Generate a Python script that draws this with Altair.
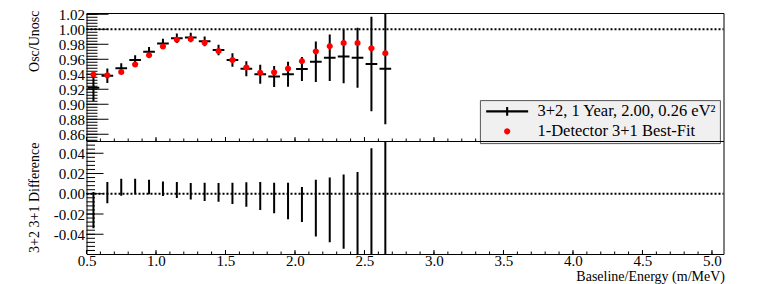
import numpy as np
import pandas as pd
import altair as alt

# ---------------- values ----------------
bin_centers = [0.55, 0.65, 0.75, 0.85, 0.95, 1.05, 1.15, 1.25, 1.35, 1.45, 1.55,
               1.65, 1.75, 1.85, 1.95, 2.05, 2.15, 2.25, 2.35, 2.45, 2.55, 2.65]
ratio_32 = [0.922, 0.938, 0.948, 0.959, 0.970, 0.981, 0.988, 0.989, 0.984, 0.9725, 0.959,
            0.9475, 0.940, 0.937, 0.940, 0.947, 0.9567, 0.962, 0.9637, 0.962, 0.9537, 0.9475]
ratio_32_err = [0.0175, 0.0098, 0.0067, 0.0065, 0.0063, 0.0063, 0.0063, 0.0063, 0.0065, 0.0070, 0.0090,
                0.0100, 0.0127, 0.0140, 0.0167, 0.0160, 0.0270, 0.0310, 0.0356, 0.0400, 0.0630, 0.0740]
ratio_31 = [0.9396, 0.9385, 0.943, 0.953, 0.9654, 0.977, 0.986, 0.987, 0.982, 0.971, 0.959,
            0.949, 0.942, 0.9425, 0.9475, 0.9575, 0.9704, 0.9775, 0.9817, 0.9817, 0.9746, 0.968]
diff_vals = [-0.0161, 0.001, 0.0064, 0.0071, 0.0066, 0.005, 0.0037, 0.0024, 0.0018, 0.0013, 0.0003,
             -0.0007, -0.0022, -0.0042, -0.0071, -0.0107, -0.0141, -0.016, -0.0177, -0.0195, -0.021, -0.0205]
diff_errs = [0.0179, 0.0105, 0.0084, 0.0076, 0.0072, 0.0071, 0.0078, 0.0081, 0.009, 0.0092, 0.0105,
             0.0121, 0.0138, 0.015, 0.018, 0.0173, 0.028, 0.032, 0.0366, 0.041, 0.066, 0.075]

top_reference = [1.0]
bottom_reference = [0.0]

x_tick_labels = [0.5, 1.0, 1.5, 2.0, 2.5, 3.0, 3.5, 4.0, 4.5, 5.0]
y_top_tick_labels = [0.86, 0.88, 0.90, 0.92, 0.94, 0.96, 0.98, 1.00, 1.02]
y_bottom_tick_labels = [-0.04, -0.02, 0.00, 0.02, 0.04]

series_labels = ["3+2, 1 Year, 2.00, 0.26 eV\u00b2", "1-Detector 3+1 Best-Fit"]
x_title = "Baseline/Energy (m/MeV)"
y_top_title = "Osc/Unosc"
y_bottom_title = "3+2 3+1 Difference"

# ---------------- layout / style ----------------
W, H1, H2 = 637, 128, 113
X_DOMAIN = [0.5, 5.083]
YT_DOMAIN = [0.851, 1.0217]
YB_DOMAIN = [-0.0595, 0.0521]
HALF_BIN = 0.042
FONT = "Liberation Serif"
SYM = 256  # symbol size -> path scale sqrt(SYM)/2 = 8 px per unit

xs = alt.Scale(domain=X_DOMAIN, nice=False, zero=False)
yts = alt.Scale(domain=YT_DOMAIN, nice=False, zero=False)
ybs = alt.Scale(domain=YB_DOMAIN, nice=False, zero=False)

top_df = pd.DataFrame({"x": bin_centers, "y": ratio_32, "err": ratio_32_err})
top_df["lo"] = top_df["y"] - top_df["err"]
top_df["hi"] = top_df["y"] + top_df["err"]
top_df["xl"] = top_df["x"] - HALF_BIN
top_df["xr"] = top_df["x"] + HALF_BIN

fit_df = pd.DataFrame({"x": bin_centers, "y": ratio_31, "series": series_labels[1]})

bot_df = pd.DataFrame({"x": bin_centers, "d": diff_vals, "e": diff_errs})
bot_df["lo"] = bot_df["d"] - bot_df["e"]
bot_df["hi"] = bot_df["d"] + bot_df["e"]

ref_top_df = pd.DataFrame({"x0": [X_DOMAIN[0]], "x1": [X_DOMAIN[1]], "v": top_reference})
ref_bot_df = pd.DataFrame({"x0": [X_DOMAIN[0]], "x1": [X_DOMAIN[1]], "v": bottom_reference})

# inside ticks (ROOT style)
x_major = pd.DataFrame({"v": x_tick_labels})
x_minor = pd.DataFrame({"v": np.round(np.arange(0.5, 5.0801, 0.1), 3)})
yt_major = pd.DataFrame({"v": y_top_tick_labels})
yt_minor = pd.DataFrame({"v": np.round(np.arange(0.852, 1.0217, 0.004), 4)})
yb_major = pd.DataFrame({"v": y_bottom_tick_labels})
yb_minor = pd.DataFrame({"v": np.round(np.arange(-0.056, 0.0521, 0.004), 4)})

# ---------------- axes ----------------
y_top_axis = alt.Axis(
    orient="left", values=y_top_tick_labels, format=".2f", ticks=False, tickSize=0,
    domain=False, grid=False, labelOverlap=False,
    labelFont=FONT, labelFontSize=15, labelColor="black", labelPadding=2,
    title=y_top_title, titleFont=FONT, titleFontSize=14, titleFontWeight="normal",
    titleColor="black", titleX=-52.3, titleY=-3, titleAlign="right",
    titleBaseline="middle", titleAngle=270)

y_bot_axis = alt.Axis(
    orient="left", values=y_bottom_tick_labels, format=".2f", ticks=False, tickSize=0,
    domain=False, grid=False, labelOverlap=False,
    labelExpr="replace(datum.label, '\u2212', '-')",
    labelFont=FONT, labelFontSize=15, labelColor="black", labelPadding=2,
    title=y_bottom_title, titleFont=FONT, titleFontSize=14, titleFontWeight="normal",
    titleColor="black", titleX=-52.3, titleY=1, titleAlign="right",
    titleBaseline="middle", titleAngle=270)

x_bot_axis = alt.Axis(
    orient="bottom", values=x_tick_labels, format=".1f", ticks=False, tickSize=0,
    domain=False, grid=False,
    labelFlush=False, labelOverlap=False, labelBaseline="alphabetic", labelPadding=11,
    labelFont=FONT, labelFontSize=15, labelColor="black",
    title=x_title, titleFont=FONT, titleFontSize=14, titleFontWeight="normal",
    titleColor="black", titleX=638, titleY=26.6, titleAlign="right",
    titleBaseline="alphabetic", titleAngle=0)


def xticks(df, scale, h, length, axis):
    return alt.Chart(df).mark_rule(color="black", strokeWidth=1).encode(
        x=alt.X("v:Q", scale=scale, axis=axis),
        y=alt.value(h), y2=alt.value(h - length))


def yticks(df, scale, length, axis):
    return alt.Chart(df).mark_rule(color="black", strokeWidth=1).encode(
        y=alt.Y("v:Q", scale=scale, axis=axis),
        x=alt.value(0), x2=alt.value(length))


# legend symbols (path units: 1 unit = 8 px)
cross_path = "M-2.625,-0.13H2.625V0.13H-2.625Z M-0.13,-0.55H0.13V0.55H-0.13Z"
ang = np.linspace(0, 2 * np.pi, 17)[:-1]
dot_path = "M" + "L".join(f"{0.38*np.cos(a):.4f},{0.38*np.sin(a):.4f}" for a in ang) + "Z"

legend = alt.Legend(
    title=None, orient="none", legendX=393.4, legendY=87.1, direction="vertical",
    fillColor="#f0f0f0", strokeColor="#555555", padding=3, rowPadding=3,
    symbolSize=SYM, symbolStrokeWidth=0, symbolOffset=16, labelOffset=22,
    labelFont=FONT, labelFontSize=16.5, labelColor="black", labelLimit=400)

# ---------------- top panel ----------------
dotted_top = alt.Chart(ref_top_df).mark_rule(color="black", strokeWidth=2, strokeDash=[2, 2]).encode(
    x=alt.X("x0:Q", scale=xs, axis=None), x2="x1:Q",
    y=alt.Y("v:Q", scale=yts, axis=y_top_axis))

vbars_top = alt.Chart(top_df).mark_rule(color="black", strokeWidth=2, clip=True).encode(
    x=alt.X("x:Q", scale=xs, axis=None),
    y=alt.Y("lo:Q", scale=yts, axis=y_top_axis), y2="hi:Q")

hbars_top = alt.Chart(top_df).mark_rule(color="black", strokeWidth=2, clip=True).encode(
    x=alt.X("xl:Q", scale=xs, axis=None), x2="xr:Q",
    y=alt.Y("y:Q", scale=yts, axis=y_top_axis))

points = alt.Chart(fit_df).mark_point(filled=True, opacity=1, size=SYM, strokeWidth=0, clip=True).encode(
    x=alt.X("x:Q", scale=xs, axis=None),
    y=alt.Y("y:Q", scale=yts, axis=y_top_axis),
    color=alt.Color("series:N", scale=alt.Scale(domain=series_labels, range=["#000000", "#ff0000"]),
                    legend=legend),
    shape=alt.Shape("series:N", scale=alt.Scale(domain=series_labels, range=[cross_path, dot_path]),
                    legend=legend))

top = alt.layer(
    dotted_top,
    xticks(x_major, xs, H1, 4, None), xticks(x_minor, xs, H1, 2.5, None),
    yticks(yt_major, yts, 22, y_top_axis), yticks(yt_minor, yts, 11, y_top_axis),
    vbars_top, hbars_top, points,
).properties(width=W, height=H1)

# ---------------- bottom panel ----------------
dotted_bot = alt.Chart(ref_bot_df).mark_rule(color="black", strokeWidth=2, strokeDash=[2, 2]).encode(
    x=alt.X("x0:Q", scale=xs, axis=x_bot_axis), x2="x1:Q",
    y=alt.Y("v:Q", scale=ybs, axis=y_bot_axis))

bars_bot = alt.Chart(bot_df).mark_rule(color="black", strokeWidth=2, clip=True).encode(
    x=alt.X("x:Q", scale=xs, axis=x_bot_axis),
    y=alt.Y("lo:Q", scale=ybs, axis=y_bot_axis), y2="hi:Q")

bottom = alt.layer(
    dotted_bot,
    xticks(x_major, xs, H2, 4, x_bot_axis), xticks(x_minor, xs, H2, 2.5, x_bot_axis),
    yticks(yb_major, ybs, 17, y_bot_axis), yticks(yb_minor, ybs, 8.5, y_bot_axis),
    bars_bot,
).properties(width=W, height=H2)

chart = alt.vconcat(top, bottom, spacing=0, bounds="flush").resolve_scale(
    color="independent", shape="independent"
).resolve_legend(
    color="independent", shape="independent"
).properties(
    padding={"left": 18.5, "top": -2, "right": 0, "bottom": 0},
    background="white",
).configure(font=FONT).configure_view(stroke="black", strokeWidth=1)

chart.save("out.html", embed_options={"renderer": "svg", "actions": False})
